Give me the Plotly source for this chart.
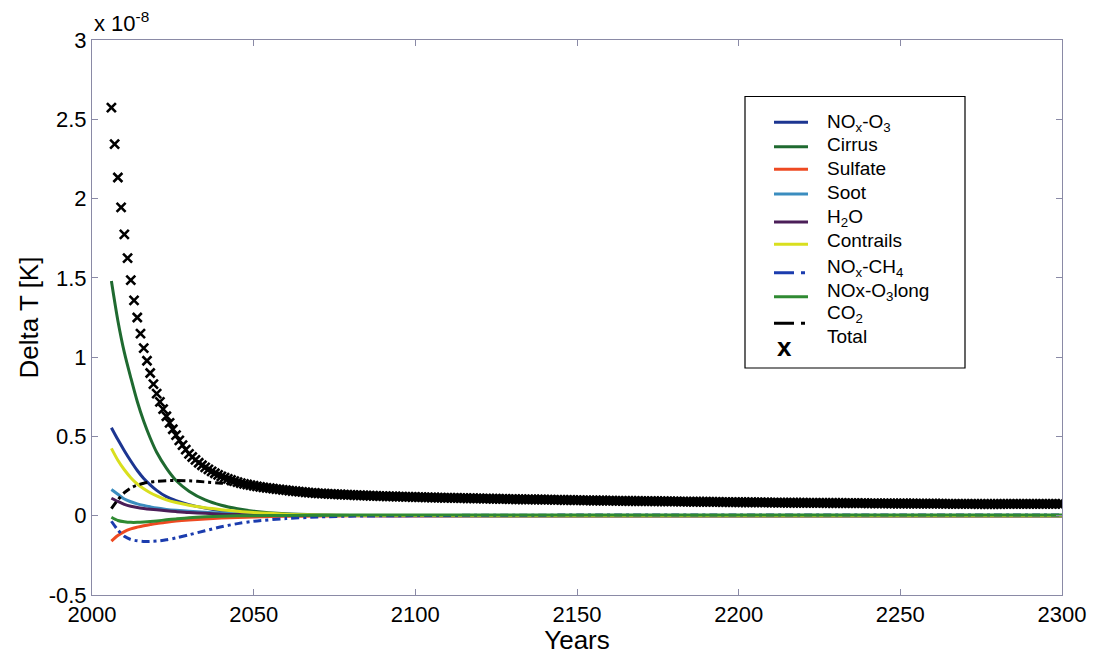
import plotly.graph_objects as go

# ---------------- data (values in units of 1e-8 K) ----------------
comp_years = [2006, 2008, 2010, 2012, 2014, 2016, 2018, 2020, 2023, 2026, 2030, 2035,
              2040, 2045, 2050, 2060, 2070, 2080, 2100, 2150, 2200, 2250, 2300]

nox_o3 = [0.555, 0.48, 0.41, 0.345, 0.285, 0.235, 0.195, 0.16, 0.12, 0.095, 0.07, 0.048,
          0.032, 0.022, 0.015, 0.007, 0.003, 0.001, 0.0, 0.0, 0.0, 0.0, 0.0]
cirrus = [1.48, 1.23, 1.03, 0.87, 0.72, 0.595, 0.49, 0.40, 0.30, 0.222, 0.155, 0.10,
          0.066, 0.044, 0.029, 0.012, 0.005, 0.002, 0.001, 0.0, 0.0, 0.0, 0.0]
sulfate = [-0.16, -0.125, -0.10, -0.083, -0.072, -0.063, -0.056, -0.049, -0.041, -0.034,
           -0.027, -0.020, -0.015, -0.011, -0.008, -0.004, -0.002, -0.001, 0.0, 0.0, 0.0, 0.0, 0.0]
soot = [0.165, 0.135, 0.105, 0.088, 0.075, 0.065, 0.056, 0.048, 0.040, 0.034, 0.028, 0.022,
        0.017, 0.013, 0.010, 0.006, 0.004, 0.002, 0.001, 0.0, 0.0, 0.0, 0.0]
h2o = [0.11, 0.09, 0.072, 0.06, 0.052, 0.046, 0.041, 0.037, 0.031, 0.026, 0.020, 0.015,
       0.010, 0.007, 0.005, 0.002, 0.001, 0.001, 0.0, 0.0, 0.0, 0.0, 0.0]
contrails = [0.425, 0.35, 0.29, 0.24, 0.20, 0.17, 0.145, 0.125, 0.10, 0.083, 0.066, 0.05,
             0.038, 0.028, 0.02, 0.01, 0.005, 0.002, 0.001, 0.0, 0.0, 0.0, 0.0]
nox_ch4 = [-0.035, -0.09, -0.13, -0.15, -0.158, -0.162, -0.162, -0.16, -0.152, -0.14, -0.12,
           -0.095, -0.07, -0.05, -0.035, -0.018, -0.008, -0.003, 0.001, 0.004, 0.005, 0.005, 0.005]
nox_o3long = [-0.01, -0.03, -0.038, -0.042, -0.042, -0.04, -0.037, -0.033, -0.026, -0.02,
              -0.013, -0.007, -0.003, -0.001, 0.0, 0.002, 0.003, 0.004, 0.004, 0.005, 0.005, 0.005, 0.005]
co2 = [0.045, 0.10, 0.145, 0.175, 0.193, 0.205, 0.212, 0.217, 0.221, 0.222, 0.22, 0.213,
       0.205, 0.195, 0.185, 0.16, 0.145, 0.135, 0.115, 0.095, 0.085, 0.078, 0.072]

total_years = list(range(2006, 2301))
total = [
    2.574, 2.343, 2.133, 1.944, 1.774, 1.624, 1.486, 1.358, 1.250, 1.148,
    1.057, 0.977, 0.900, 0.830, 0.770, 0.718, 0.672, 0.627, 0.585, 0.545,
    0.508, 0.475, 0.445, 0.417, 0.390, 0.370, 0.352, 0.334, 0.318, 0.305,
    0.292, 0.280, 0.268, 0.258, 0.248, 0.240, 0.232, 0.225, 0.218, 0.212,
    0.206, 0.201, 0.197, 0.193, 0.189, 0.185, 0.182, 0.179, 0.176, 0.174,
    0.171, 0.168, 0.166, 0.163, 0.161, 0.158, 0.156, 0.154, 0.152, 0.150,
    0.148, 0.146, 0.144, 0.143, 0.141, 0.140, 0.139, 0.138, 0.137, 0.136,
    0.135, 0.134, 0.133, 0.132, 0.131, 0.130, 0.129, 0.129, 0.128, 0.127,
    0.126, 0.126, 0.125, 0.124, 0.124, 0.123, 0.122, 0.122, 0.121, 0.120,
    0.120, 0.119, 0.119, 0.118, 0.118, 0.117, 0.117, 0.116, 0.116, 0.115,
    0.115, 0.114, 0.114, 0.113, 0.113, 0.112, 0.112, 0.112, 0.111, 0.111,
    0.110, 0.110, 0.110, 0.109, 0.109, 0.108, 0.108, 0.108, 0.107, 0.107,
    0.106, 0.106, 0.106, 0.105, 0.105, 0.104, 0.104, 0.104, 0.103, 0.103,
    0.103, 0.102, 0.102, 0.102, 0.101, 0.101, 0.101, 0.100, 0.100, 0.100,
    0.099, 0.099, 0.099, 0.098, 0.098, 0.098, 0.097, 0.097, 0.097, 0.096,
    0.096, 0.096, 0.096, 0.095, 0.095, 0.095, 0.094, 0.094, 0.094, 0.094,
    0.093, 0.093, 0.093, 0.093, 0.092, 0.092, 0.092, 0.092, 0.091, 0.091,
    0.091, 0.091, 0.090, 0.090, 0.090, 0.090, 0.089, 0.089, 0.089, 0.089,
    0.088, 0.088, 0.088, 0.088, 0.088, 0.087, 0.087, 0.087, 0.087, 0.086,
    0.086, 0.086, 0.086, 0.086, 0.085, 0.085, 0.085, 0.085, 0.085, 0.084,
    0.084, 0.084, 0.084, 0.084, 0.083, 0.083, 0.083, 0.083, 0.083, 0.082,
    0.082, 0.082, 0.082, 0.082, 0.082, 0.081, 0.081, 0.081, 0.081, 0.081,
    0.081, 0.080, 0.080, 0.080, 0.080, 0.080, 0.080, 0.079, 0.079, 0.079,
    0.079, 0.079, 0.079, 0.079, 0.078, 0.078, 0.078, 0.078, 0.078, 0.078,
    0.078, 0.077, 0.077, 0.077, 0.077, 0.077, 0.077, 0.077, 0.077, 0.076,
    0.076, 0.076, 0.076, 0.076, 0.076, 0.076, 0.076, 0.076, 0.075, 0.075,
    0.075, 0.075, 0.075, 0.075, 0.075, 0.075, 0.075, 0.075, 0.074, 0.074,
    0.074, 0.074, 0.074, 0.074, 0.074, 0.074, 0.075, 0.075, 0.075, 0.075,
    0.075, 0.075, 0.075, 0.075, 0.075, 0.075, 0.075, 0.075, 0.075, 0.075,
    0.075, 0.075, 0.075, 0.075, 0.075,
]

x_ticks = [2000, 2050, 2100, 2150, 2200, 2250, 2300]
y_ticks = [-0.5, 0, 0.5, 1, 1.5, 2, 2.5, 3]
y_tick_text = ["-0.5", "0", "0.5", "1", "1.5", "2", "2.5", "3"]

DASHDOT = "8px,4px,3px,4px"
series = [
    ("NO<sub>x</sub>-O<sub>3</sub>", nox_o3, "#1c3591", "solid"),
    ("Cirrus", cirrus, "#1f6a30", "solid"),
    ("Sulfate", sulfate, "#ee4a22", "solid"),
    ("Soot", soot, "#3b8dbf", "solid"),
    ("H<sub>2</sub>O", h2o, "#4b1e58", "solid"),
    ("Contrails", contrails, "#d9df1e", "solid"),
    ("NO<sub>x</sub>-CH<sub>4</sub>", nox_ch4, "#1b3cae", DASHDOT),
    ("NOx-O<sub>3</sub>long", nox_o3long, "#2f8a32", "solid"),
    ("CO<sub>2</sub>", co2, "#000000", DASHDOT),
]

FONT = "Liberation Sans, Arial, sans-serif"

# page is drawn with an 8px body margin; plot area spans page px x 92..1062, y 40..595
def px_x(X):
    return (X - 92) / 970.0

def px_y(Y):
    return (595 - Y) / 555.0

fig = go.Figure()
for name, vals, color, dash in series:
    fig.add_trace(go.Scatter(
        x=comp_years, y=vals, name=name, mode="lines", showlegend=False,
        line=dict(color=color, width=3, dash=dash, shape="spline", smoothing=0.8),
    ))

fig.add_trace(go.Scatter(
    x=total_years, y=total, name="Total", mode="markers", showlegend=False,
    marker=dict(symbol="x-thin", size=9, color="black",
                line=dict(color="black", width=2.6)),
))

axis_common = dict(
    showline=True, linecolor="#8a8aa6", linewidth=1, mirror="ticks",
    ticks="inside", ticklen=6, tickcolor="#8a8aa6", showgrid=False, zeroline=False,
    tickfont=dict(family=FONT, size=22, color="black"), automargin=False,
)

# ---- legend drawn as box + samples + labels (MATLAB style) ----
shapes = [dict(type="rect", xref="paper", yref="paper", layer="above",
               x0=px_x(745), x1=px_x(965), y0=px_y(368), y1=px_y(96.5),
               line=dict(color="black", width=1.2), fillcolor="white")]
annotations = []
line_rows = [122.3, 146.7, 169.3, 194.0, 222.0, 244.3, 272.7, 296.7, 323.3]
text_rows = [123.0, 145.0, 168.3, 192.7, 218.0, 240.7, 267.5, 291.5, 314.0]
for (name, vals, color, dash), ly, ty in zip(series, line_rows, text_rows):
    shapes.append(dict(type="line", xref="paper", yref="paper", layer="above",
                       x0=px_x(774), x1=px_x(808), y0=px_y(ly), y1=px_y(ly),
                       line=dict(color=color, width=3,
                                 dash="20px,7px,4px,7px" if dash != "solid" else "solid")))
    annotations.append(dict(text=name, xref="paper", yref="paper",
                            x=px_x(826), y=px_y(ty), xanchor="left", yanchor="middle",
                            showarrow=False, borderpad=0,
                            font=dict(family=FONT, size=19, color="black")))
annotations.append(dict(text="<b>x</b>", xref="paper", yref="paper",
                        x=px_x(784), y=px_y(347), xanchor="center", yanchor="middle",
                        showarrow=False, font=dict(family=FONT, size=26, color="black")))
annotations.append(dict(text="Total", xref="paper", yref="paper",
                        x=px_x(826), y=px_y(336.5), xanchor="left", yanchor="middle",
                        showarrow=False, borderpad=0,
                        font=dict(family=FONT, size=19, color="black")))

# exponent label
annotations.append(dict(text="x 10<sup>-8</sup>", xref="paper", yref="paper",
                        x=px_x(93), y=px_y(37), xanchor="left", yanchor="bottom",
                        showarrow=False, borderpad=0,
                        font=dict(family=FONT, size=22, color="black")))

fig.update_layout(
    width=1089, height=647,
    margin=dict(l=84, r=35, t=32, b=60),
    paper_bgcolor="white", plot_bgcolor="white",
    font=dict(family=FONT, color="black"),
    xaxis=dict(range=[2000, 2300], tickvals=x_ticks,
               title=dict(text="Years", font=dict(size=26), standoff=6),
               **axis_common),
    yaxis=dict(range=[-0.5, 3], tickvals=y_ticks, ticktext=y_tick_text,
               title=dict(text="Delta T [K]", font=dict(size=26), standoff=2),
               **axis_common),
    showlegend=False,
    shapes=shapes,
    annotations=annotations,
)

fig.write_html("out.html")
